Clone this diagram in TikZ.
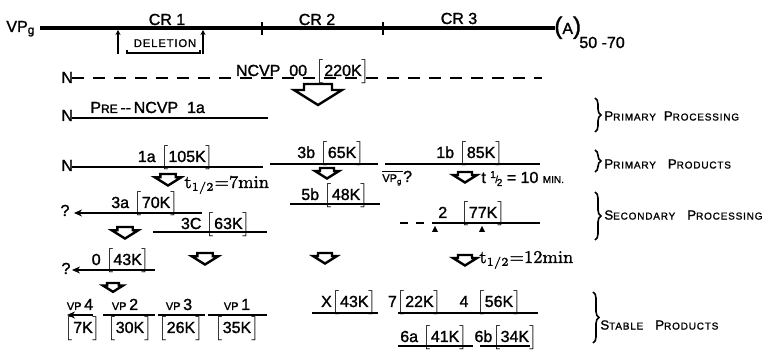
\documentclass[tikz,border=0pt]{standalone}
\usepackage{fontspec}
\newfontfamily\lab[FakeBold=1.4]{Liberation Sans}
\newfontfamily\labsc[LetterSpace=8,FakeBold=1.4]{Liberation Sans}
\newfontfamily\serif[FakeBold=1.2]{Latin Modern Roman}
\usetikzlibrary{arrows.meta,decorations.pathreplacing}

% molecular-weight bracket, e.g. [105K]
\newcommand\kd[1]{$\big[$#1$\big]$}
% hand-made small capitals: large initial, small rest
\newcommand\bigsc[2]{{\fontsize{6.6}{7}\selectfont #1}{\fontsize{5}{6}\selectfont #2}}
\newcommand\vpl[1]{{\fontsize{5.5}{6}\selectfont VP}\,#1}

\begin{document}
\begin{tikzpicture}[x=0.5pt,y=-0.5pt,
  txt/.style={font=\lab\fontsize{8}{9}\selectfont, inner sep=0pt, anchor=base},
  seg/.style={line width=0.9pt},
  genome/.style={line width=1.7pt},
  tick/.style={line width=0.9pt},
  dsh/.style={line width=0.9pt, dash pattern=on 6pt off 4.5pt},
  lead/.style={line width=0.9pt, {Stealth[length=4pt,width=3.5pt]}-},
  brc/.style={decorate, decoration={brace, amplitude=3pt}, line width=0.8pt},
  side/.style={font=\labsc, inner sep=0pt, anchor=west},
  half/.style={font=\serif\fontsize{9}{10}\selectfont, inner sep=0pt, anchor=base west},
  harrow/.pic={\draw[line width=1.2pt, line join=miter]
      (-14,0)--(14,0)--(14,6)--(24,6)--(0,21)--(-24,6)--(-14,6)--cycle;}
]
\useasboundingbox (0,0) rectangle (768,353);

% ---- genome map ----
\node[txt, anchor=base west] (vpg) at (6,32) {VP\textsubscript{g}};
\coordinate (g0) at (40,28);
\coordinate (g1) at (555,28);
\draw[genome] (g0) -- (g1);
\node[txt, anchor=base west] (polyA) at (554,34)
  {{\fontsize{12}{13}\selectfont(}A{\fontsize{12}{13}\selectfont)}};
\node[txt, anchor=base west] (tail) at (579,48) {50 -70};
\node[txt] (cr1) at (167,25) {CR 1};
\node[txt] (cr2) at (317,25) {CR 2};
\node[txt] (cr3) at (459,24) {CR 3};
\draw[tick] (262,22) -- (262,35);
\draw[tick] (383,22) -- (383,35);
\draw[tick, -{Stealth[length=2.5pt,width=2.5pt]}] (118,54) -- (118,30);
\draw[tick, -{Stealth[length=2.5pt,width=2.5pt]}] (203,54) -- (203,30);
\node[font=\labsc\fontsize{5.6}{6}\selectfont, inner sep=0pt, anchor=base] (del) at (165,47) {DELETION};
\draw[seg] (127,50) -- (127,53) -- (200,53) -- (200,50);

% ---- NCVP 00 ----
\node[txt, anchor=base west] (n0) at (61,83) {N};
\coordinate (d0) at (72,78);
\coordinate (d1) at (542,78);
\draw[dsh] (d0) -- (d1);
\node[txt] (p00) at (303,76) {NCVP\ \ 00\ \ \kd{220K}};
\pic at (318,84) {harrow};

% ---- primary processing ----
\node[txt, anchor=base west] (n1) at (61,121) {N};
\coordinate (pre0) at (72,118);
\coordinate (pre1) at (268,118);
\draw[seg] (pre0) -- (pre1);
\node[txt, anchor=base west] (pre) at (90,113)
  {P{\fontsize{6}{7}\selectfont RE}\,--\,NCVP\ \ 1a};

% ---- primary products ----
\node[txt, anchor=base west] (n2) at (61,171) {N};
\coordinate (a0) at (72,167);  \coordinate (a1) at (263,167);
\draw[seg] (a0) -- (a1);
\node[txt] (p1a) at (176,162) {1a \kd{105K}};
\coordinate (b0) at (270,164); \coordinate (b1) at (378,164);
\draw[seg] (b0) -- (b1);
\node[txt] (p3b) at (331,158) {3b \kd{65K}};
\coordinate (c0) at (385,164); \coordinate (c1) at (540,164);
\draw[seg] (c0) -- (c1);
\node[txt] (p1b) at (470,158) {1b \kd{85K}};

% ---- cleavages of the primary products ----
\pic[scale=0.55] at (168,174) {harrow};
\node[half] (h7) at (184,188) {t\textsubscript{1/2}=7min};
\pic[scale=0.5] at (327,168) {harrow};
\node[font=\lab\fontsize{5.5}{6}\selectfont, inner sep=0pt, anchor=base west] (vpbar) at (382,182) {VP\textsubscript{g}};
\node[txt, anchor=base west] (vpq) at (vpbar.base east) {?};
\draw[line width=0.5pt] ([yshift=1.2pt]vpbar.north west) -- ([yshift=1.2pt]vpbar.north east);
\pic[scale=0.5] at (465,172) {harrow};
\node[txt, anchor=base west] (h10) at (481,183)
  {t\ {\fontsize{5}{5}\selectfont\raisebox{2.5pt}{1}\kern-0.3pt/\kern-0.6pt\raisebox{-1.5pt}{2}}\ = 10 {\fontsize{5}{6}\selectfont MIN.}};

% ---- secondary processing ----
\node[txt] (q1) at (65,216) {?};
\coordinate (e0) at (74,213); \coordinate (e1) at (202,213);
\draw[lead] (e0) -- (e1);
\node[txt] (p3a) at (145,208) {3a \kd{70K}};
\coordinate (f0) at (290,204); \coordinate (f1) at (380,204);
\draw[seg] (f0) -- (f1);
\node[txt] (p5b) at (335,200) {5b \kd{48K}};
\coordinate (k0) at (153,232); \coordinate (k1) at (267,232);
\draw[seg] (k0) -- (k1);
\node[txt] (p3c) at (216,229) {3C \kd{63K}};
\pic[scale=0.55] at (125,227) {harrow};
\coordinate (m0) at (400,223); \coordinate (m1) at (433,223); \coordinate (m2) at (540,223);
\draw[dsh, dash pattern=on 4pt off 4pt] (m0) -- (m1);
\draw[seg] (m1) -- (m2);
\node[txt] (p2) at (472,218) {2\ \ \ \kd{77K}};
\fill (435,226) -- (438,232) -- (432,232) -- cycle;
\fill (482,226) -- (485,232) -- (479,232) -- cycle;

\node[txt] (q2) at (66,274) {?};
\coordinate (o0) at (72,270); \coordinate (o1) at (155,270);
\draw[lead] (o0) -- (o1);
\node[txt] (p0) at (121,265) {0 \kd{43K}};
\pic[scale=0.55] at (205,253) {harrow};
\pic[scale=0.5] at (325,253) {harrow};
\pic[scale=0.5] at (465,255) {harrow};
\node[half] (h12) at (479,263) {t\textsubscript{1/2}=12min};

% ---- stable products ----
\pic[scale=0.42] at (113,283) {harrow};
\coordinate (v40) at (67,315); \coordinate (v41) at (93,315);
\draw[lead] (v40) -- (v41);
\node[txt] (vp4) at (80,310) {\vpl{4}};
\node[txt] (k7) at (83,333) {\kd{7K}};
\coordinate (v20) at (103,315); \coordinate (v21) at (155,315);
\draw[seg] (v20) -- (v21);
\node[txt] (vp2) at (125,310) {\vpl{2}};
\node[txt] (k30) at (130,333) {\kd{30K}};
\coordinate (v30) at (158,315); \coordinate (v31) at (205,315);
\draw[seg] (v30) -- (v31);
\node[txt] (vp3) at (179,310) {\vpl{3}};
\node[txt] (k26) at (181,333) {\kd{26K}};
\coordinate (v10) at (208,315); \coordinate (v11) at (267,315);
\draw[seg] (v10) -- (v11);
\node[txt] (vp1) at (237,310) {\vpl{1}};
\node[txt] (k35) at (237,333) {\kd{35K}};

\coordinate (x0) at (312,313); \coordinate (x1) at (378,313);
\draw[seg] (x0) -- (x1);
\node[txt] (px) at (349,307) {X\kd{43K}};
\coordinate (s0) at (398,313); \coordinate (s1) at (538,313);
\draw[seg] (s0) -- (s1);
\node[txt] (p7) at (415,307) {7\kd{22K}};
\node[txt] (p4) at (464,307) {4};
\node[txt] (k56) at (499,307) {\kd{56K}};
\coordinate (t0) at (398,346); \coordinate (t1) at (473,346);
\draw[seg] (t0) -- (t1);
\node[txt] (p6a) at (434,342) {6a \kd{41K}};
\coordinate (u0) at (480,346); \coordinate (u1) at (530,346);
\draw[seg] (u0) -- (u1);
\node[txt] (p6b) at (506,342) {6b\kd{34K}};

% ---- stage labels ----
\draw[brc] (595,98) -- (595,132);
\node[side] (st1) at (604,116) {\bigsc{P}{RIMARY}\hspace{4pt}\bigsc{P}{ROCESSING}};
\draw[brc] (595,150) -- (595,172);
\node[side] (st2) at (604,164) {\bigsc{P}{RIMARY}\hspace{6pt}\bigsc{P}{RODUCTS}};
\draw[brc] (595,192) -- (595,240);
\node[side] (st3) at (604,215) {\bigsc{S}{ECONDARY}\hspace{6pt}\bigsc{P}{ROCESSING}};
\draw[brc] (593,292) -- (593,343);
\node[side] (st4) at (600,325) {\bigsc{S}{TABLE}\hspace{6pt}\bigsc{P}{RODUCTS}};
\end{tikzpicture}
\end{document}
